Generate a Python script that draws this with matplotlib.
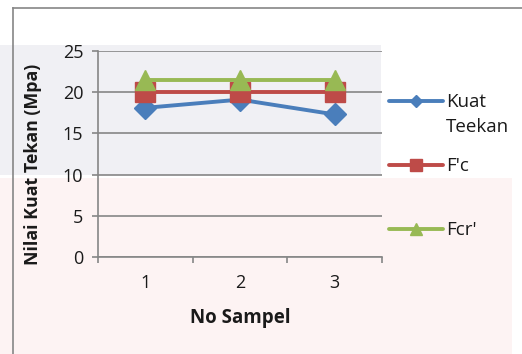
import matplotlib
matplotlib.use("Agg")
import matplotlib.pyplot as plt
from matplotlib.lines import Line2D
from matplotlib.patches import Rectangle

plt.rcParams['font.family'] = ['Open Sans', 'DejaVu Sans']

samples = [1, 2, 3]
kuat_tekan = [18.1, 19.1, 17.3]
fc = [20.0, 20.0, 20.0]
fcr = [21.5, 21.5, 21.5]
yticks = [0, 5, 10, 15, 20, 25]
series_names = ["Kuat\nTeekan", "F'c", "Fcr'"]

c_blue = '#4A7EBB'
c_red = '#BE4B48'
c_green = '#98B954'
grid_c = '#868686'
txt_c = '#1a1a1a'

fig = plt.figure(figsize=(5.22, 3.54), dpi=100)

# faint watermark background
fig.add_artist(Rectangle((0, 0.506), 0.73, 0.367, transform=fig.transFigure,
                         facecolor='#f0f0f4', edgecolor='none', zorder=0))
fig.add_artist(Rectangle((0, 0.0), 0.98, 0.497, transform=fig.transFigure,
                         facecolor='#fdf3f3', edgecolor='none', zorder=0))
# outer chart border
fig.add_artist(Line2D([0.025, 0.025], [0.0, 0.977], transform=fig.transFigure,
                      color=grid_c, lw=1.2))
fig.add_artist(Line2D([0.025, 1.0], [0.977, 0.977], transform=fig.transFigure,
                      color=grid_c, lw=1.2))

ax = fig.add_axes([0.1877, 0.274, 0.5441, 0.582])
ax.set_facecolor('none')

ax.plot(samples, kuat_tekan, color=c_blue, lw=2.8, marker='D', markersize=11.5, zorder=3)
ax.plot(samples, fc, color=c_red, lw=2.8, marker='s', markersize=14.5, zorder=4)
ax.plot(samples, fcr, color=c_green, lw=2.8, marker='^', markersize=14, zorder=5)

ax.set_xlim(0.5, 3.5)
ax.set_ylim(0, 25)
ax.set_yticks(yticks)
ax.set_xticks(samples)
ax.set_xticks([0.5, 1.5, 2.5, 3.5], minor=True)
ax.yaxis.grid(True, color=grid_c, lw=1.2)
ax.set_axisbelow(True)
for s in ['top', 'right']:
    ax.spines[s].set_visible(False)
for s in ['left', 'bottom']:
    ax.spines[s].set_color(grid_c)
    ax.spines[s].set_linewidth(1.2)
ax.tick_params(axis='y', length=4.5, width=1.2, color=grid_c, labelsize=13,
               labelcolor=txt_c, pad=6)
ax.tick_params(axis='x', which='major', length=0, labelsize=13, labelcolor=txt_c, pad=12)
ax.tick_params(axis='x', which='minor', length=4.5, width=1.2, color=grid_c)

ax.set_xlabel('No Sampel', fontsize=13.5, fontweight='bold', color=txt_c)
ax.set_ylabel('Nilai Kuat Tekan (Mpa)', fontsize=12.8, fontweight='bold', color=txt_c)
ax.xaxis.label.set_va('center')
ax.yaxis.label.set_va('center')
ax.xaxis.set_label_coords(0.5, -0.296)
ax.yaxis.set_label_coords(-0.229, 0.451)

# legend drawn manually
leg_y = [1 - 101 / 354, 1 - 165 / 354, 1 - 229 / 354]
colors = [c_blue, c_red, c_green]
markers = ['D', 's', '^']
msizes = [6, 9, 8]
x0, x1 = 389 / 522, 443 / 522
for name, y, c, m, ms in zip(series_names, leg_y, colors, markers, msizes):
    fig.add_artist(Line2D([x0, (x0 + x1) / 2, x1], [y, y, y], transform=fig.transFigure,
                          color=c, lw=2.8, marker=m, markersize=ms, markevery=[1],
                          solid_capstyle='round'))
    fig.text(446 / 522, y + 0.022, name, fontsize=13.5, color=txt_c, va='top', ha='left',
             linespacing=1.45)

fig.savefig('out.png', dpi=100)
